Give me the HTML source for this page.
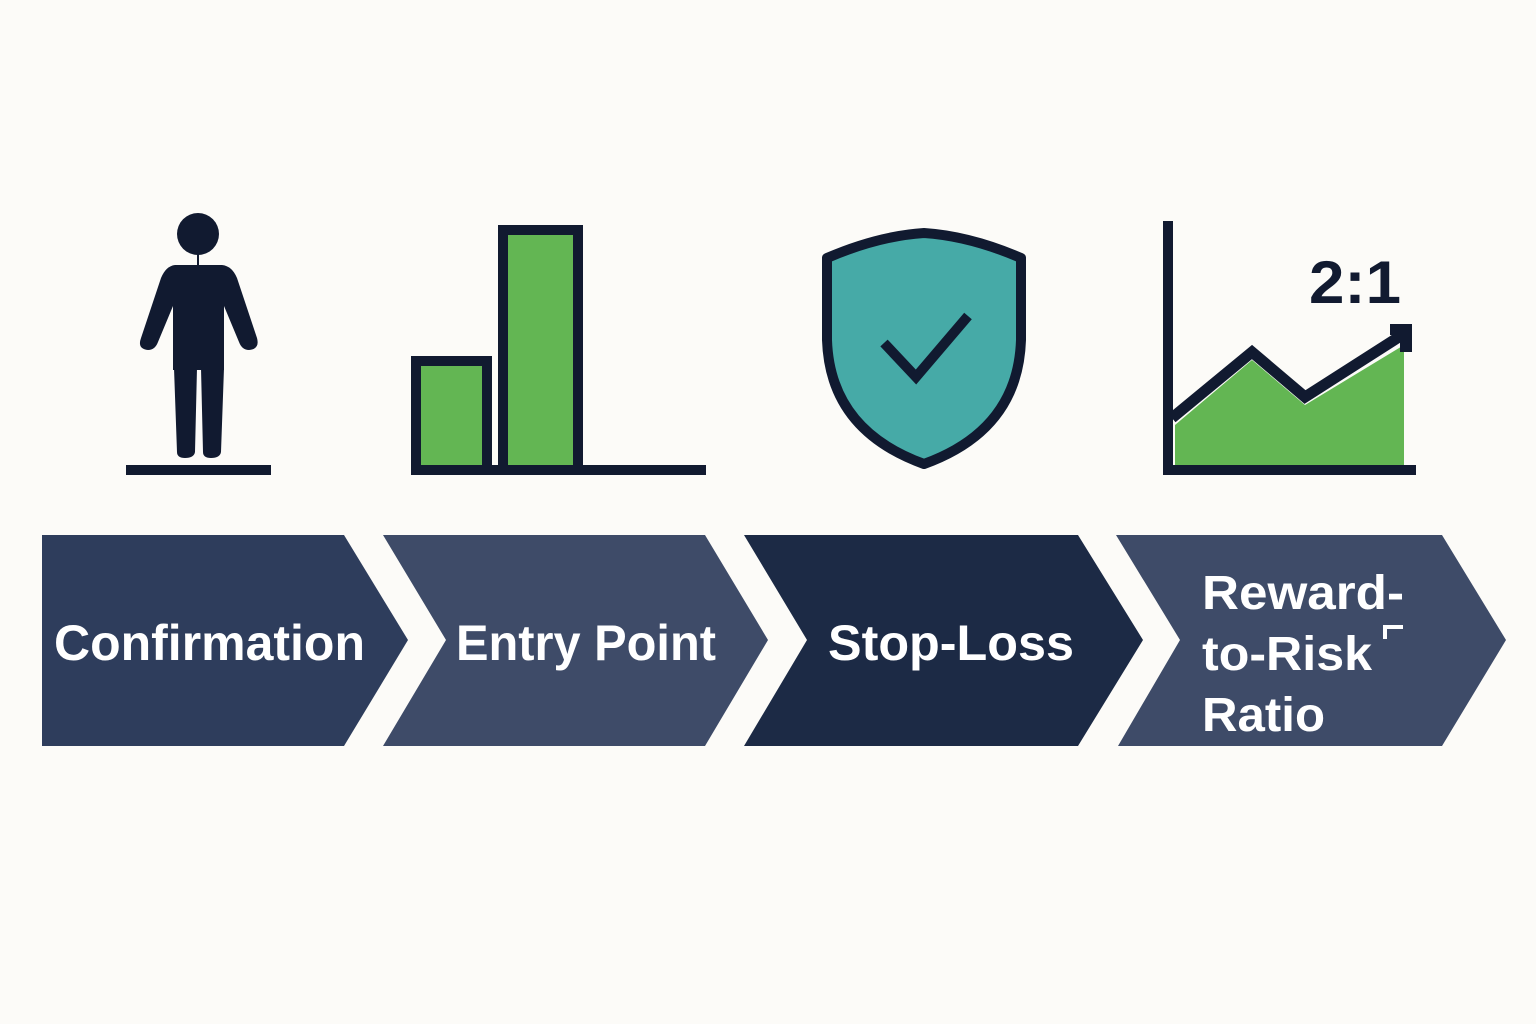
<!DOCTYPE html>
<html><head><meta charset="utf-8"><style>
html,body{margin:0;padding:0;background:#fcfbf8;}
svg{display:block}
text{font-family:"Liberation Sans",sans-serif;font-weight:bold;fill:#fff}
</style></head><body>
<svg width="1536" height="1024" viewBox="0 0 1536 1024" xmlns="http://www.w3.org/2000/svg">
<rect width="1536" height="1024" fill="#fcfbf8"/>
<!-- person -->
<g fill="#111a30">
<circle cx="198" cy="234" r="21"/>
<rect x="197" y="250" width="2" height="16"/>
<path d="M175 265 L222 265 Q232 266 237 278 L257 338 Q260 349 249 350 Q242 350 239 342 L224 306 L224 370 L173 370 L173 306 L158 342 Q155 350 148 350 Q137 349 141 338 L161 278 Q166 266 175 265 Z"/>
<path d="M174 368 L197 368 L195 452 Q194 458 185 458 Q177 458 177 452 Z"/>
<path d="M201 368 L224 368 L221 452 Q220 458 211 458 Q203 458 203 452 Z"/>
<rect x="126" y="465" width="145" height="10"/>
</g>
<!-- bars -->
<g>
<rect x="416" y="361" width="71" height="109" fill="#63b653" stroke="#111a30" stroke-width="10"/>
<rect x="503" y="230" width="75" height="240" fill="#63b653" stroke="#111a30" stroke-width="10"/>
<rect x="411" y="465" width="295" height="10" fill="#111a30"/>
</g>
<!-- shield -->
<path d="M924 233 Q970 236 1021 258 L1021 340 Q1018 430 924 464 Q830 430 827 340 L827 258 Q878 236 924 233 Z" fill="#46aaa7" stroke="#111a30" stroke-width="10" stroke-linejoin="round"/>
<polyline points="884,343 916,377 968,316" fill="none" stroke="#111a30" stroke-width="10"/>
<!-- chart -->
<polygon points="1175,425 1252,360 1305,405 1404,345 1404,466 1175,466" fill="#63b653"/>
<polyline points="1172,418 1252,352 1305,397 1402,335" fill="none" stroke="#111a30" stroke-width="11"/>
<rect x="1400" y="324" width="12" height="28" fill="#111a30"/>
<rect x="1390" y="324" width="22" height="11" fill="#111a30"/>
<rect x="1163" y="221" width="10" height="254" fill="#111a30"/>
<rect x="1163" y="465" width="253" height="10" fill="#111a30"/>
<text x="1309" y="303" font-size="60" style="fill:#111a30" textLength="92" lengthAdjust="spacingAndGlyphs">2:1</text>
<!-- chevrons -->
<polygon points="42,535 344,535 408,640 344,746 42,746" fill="#2e3d5c"/>
<polygon points="383,535 705,535 768,640 705,746 383,746 446,640" fill="#3e4b68"/>
<polygon points="744,535 1078,535 1143,640 1078,746 744,746 807,640" fill="#1c2a45"/>
<polygon points="1116,535 1442,535 1506,640 1442,746 1118,746 1180,640" fill="#3e4b68"/>
<text x="54" y="660" font-size="50" textLength="311" lengthAdjust="spacingAndGlyphs">Confirmation</text>
<text x="456" y="660" font-size="50" textLength="260" lengthAdjust="spacingAndGlyphs">Entry Point</text>
<text x="828" y="660" font-size="50" textLength="246" lengthAdjust="spacingAndGlyphs">Stop-Loss</text>
<text x="1202" y="609" font-size="48" textLength="202" lengthAdjust="spacingAndGlyphs">Reward-</text>
<text x="1202" y="670" font-size="48" textLength="170" lengthAdjust="spacingAndGlyphs">to-Risk</text>
<text x="1202" y="731" font-size="48" textLength="123" lengthAdjust="spacingAndGlyphs">Ratio</text>
<rect x="1383" y="625" width="20" height="4" fill="#fff"/>
<rect x="1383" y="625" width="4" height="14" fill="#fff"/>
</svg>
</body></html>
